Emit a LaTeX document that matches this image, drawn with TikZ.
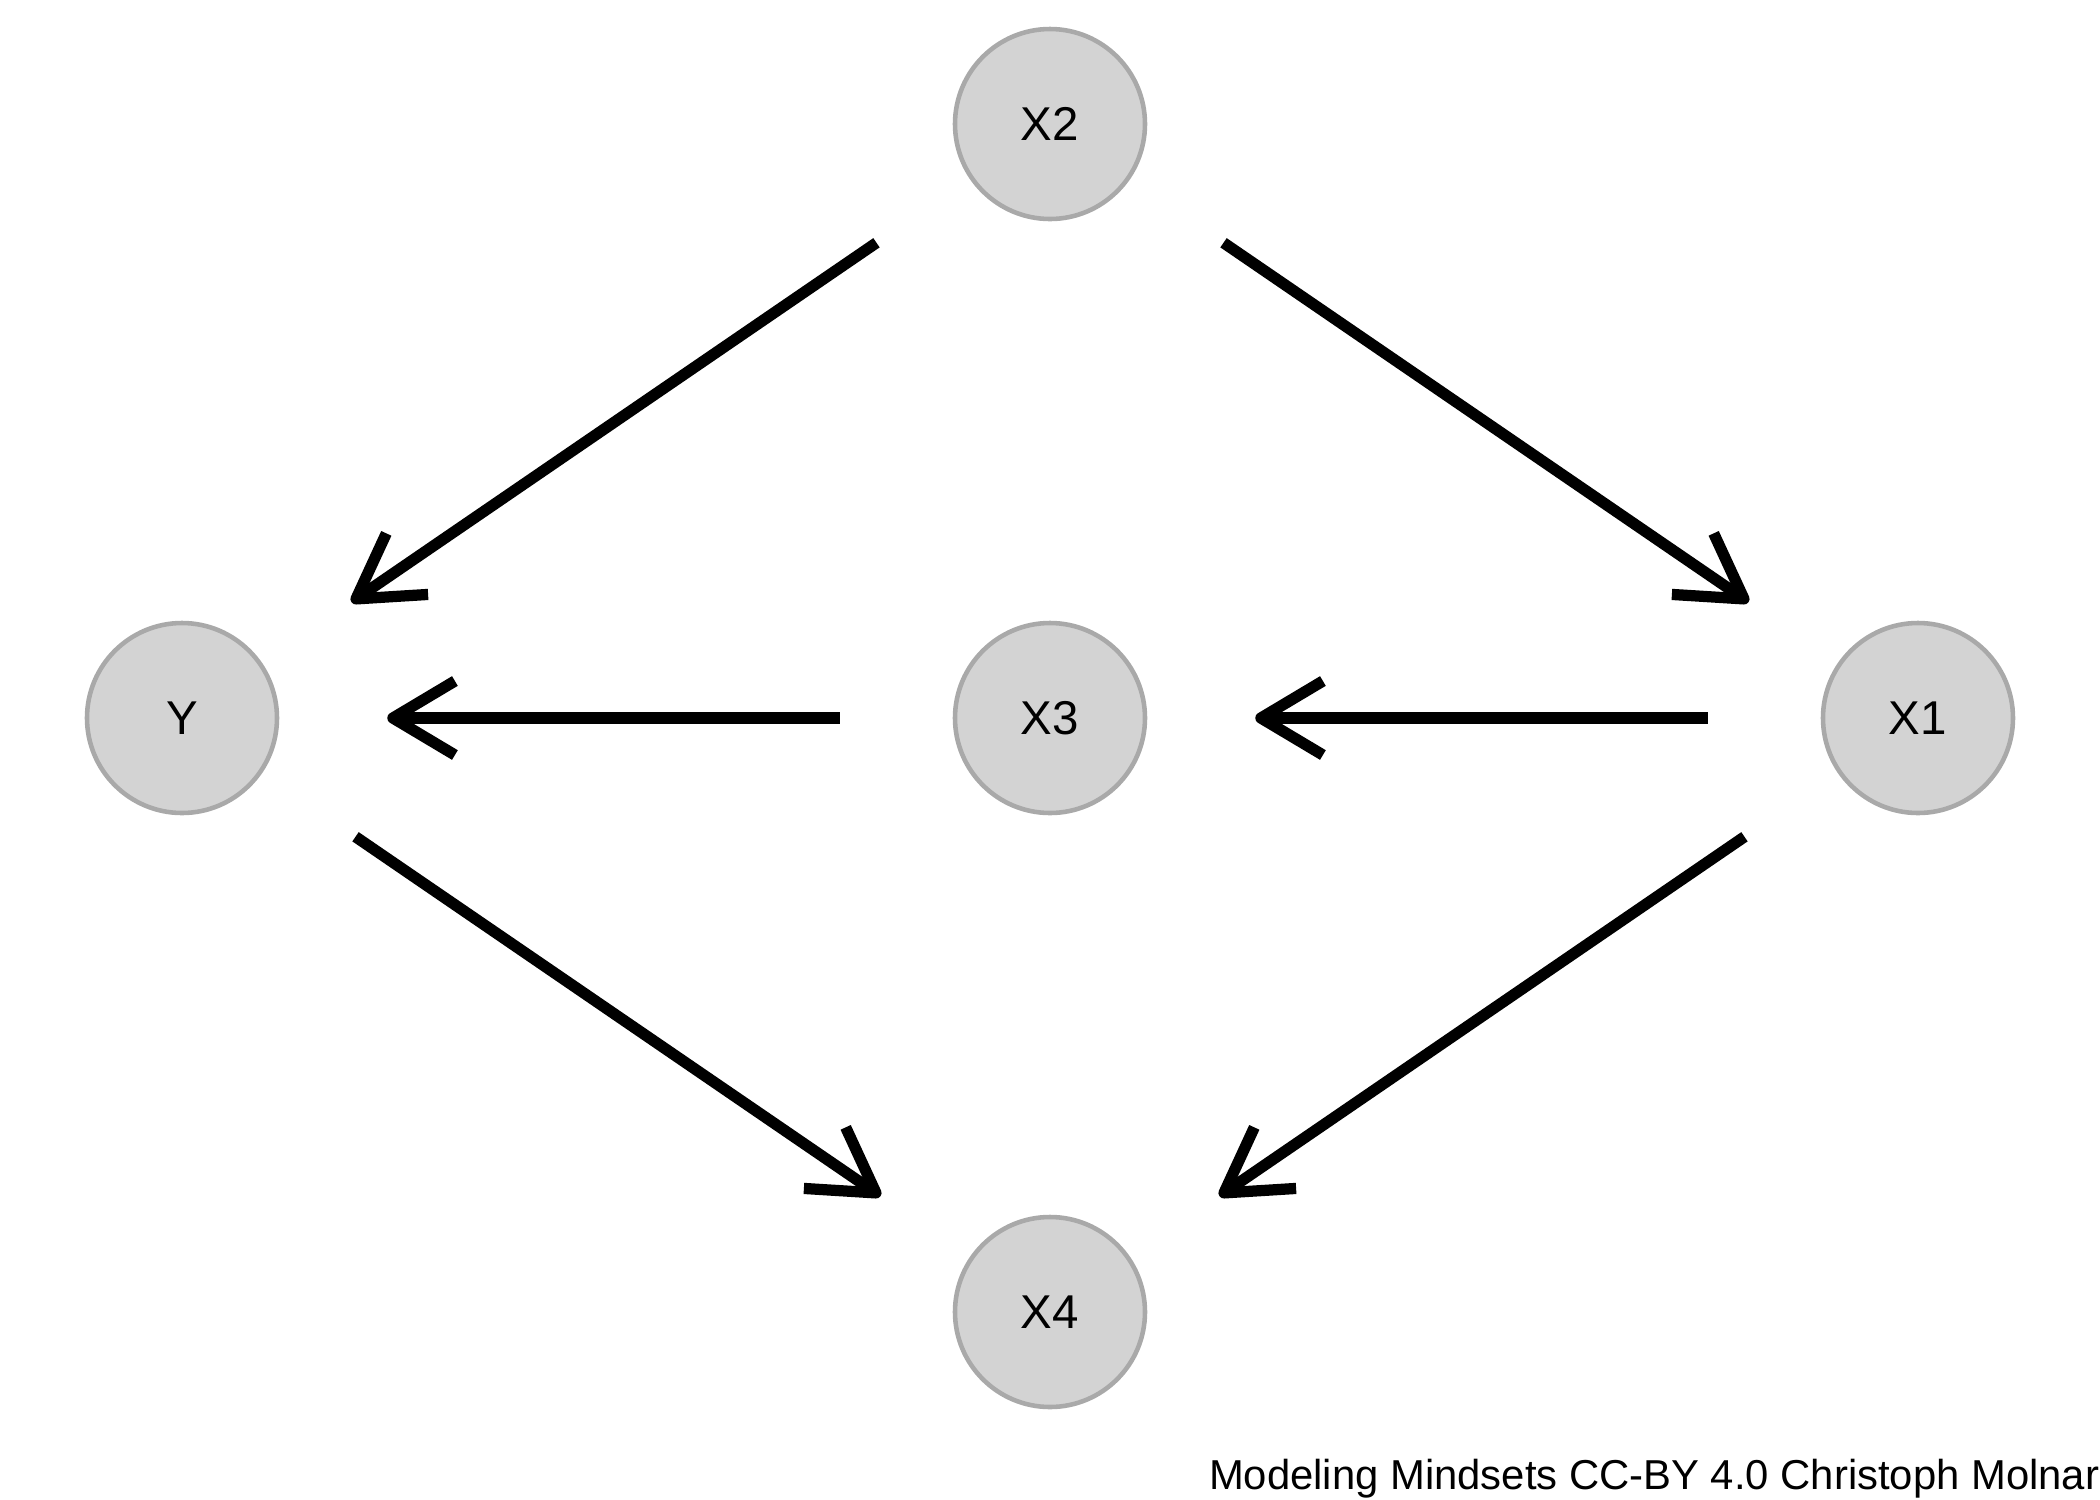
\documentclass[tikz,border=0pt]{standalone}
\usepackage{fontspec}
\setmainfont{Liberation Sans}
\usetikzlibrary{arrows.meta}
\usetikzlibrary{positioning}

\definecolor{nodefill}{HTML}{D3D3D3}
\definecolor{nodeline}{HTML}{A9A9A9}

\tikzset{
	varnode/.style={circle, fill=nodefill, draw=nodeline, line width=1.3pt,
		minimum size=1.9cm, inner sep=0pt, font=\fontsize{13.5}{16}\selectfont},
	causal/.style={line width=3.2pt,
		-{Straight Barb[length=6.2mm,width=7.4mm,line join=round,line cap=butt]},
		shorten <=1.13cm, shorten >=1.08cm}
}

\begin{document}
\begin{tikzpicture}
	\useasboundingbox (0,0) rectangle (21,-15);
	% variables
	\node[varnode] (X2) at (10.5,-1.24) {X2};
	\node[varnode] (Y)  at (1.82,-7.18) {Y};
	\node[varnode] (X3) at (10.5,-7.18) {X3};
	\node[varnode] (X1) at (19.18,-7.18) {X1};
	\node[varnode] (X4) at (10.5,-13.12) {X4};
	% edges
	\draw[causal] (X2) -- (Y);
	\draw[causal] (X2) -- (X1);
	\draw[causal] (X3) -- (Y);
	\draw[causal] (X1) -- (X3);
	\draw[causal] (Y) -- (X4);
	\draw[causal] (X1) -- (X4);
	% footer
	\node[anchor=base east, inner sep=0pt, font=\fontsize{11.9}{14}\selectfont] (credit) at (21,-14.89)
		{Modeling Mindsets CC-BY 4.0 Christoph Molnar};
\end{tikzpicture}
\end{document}
